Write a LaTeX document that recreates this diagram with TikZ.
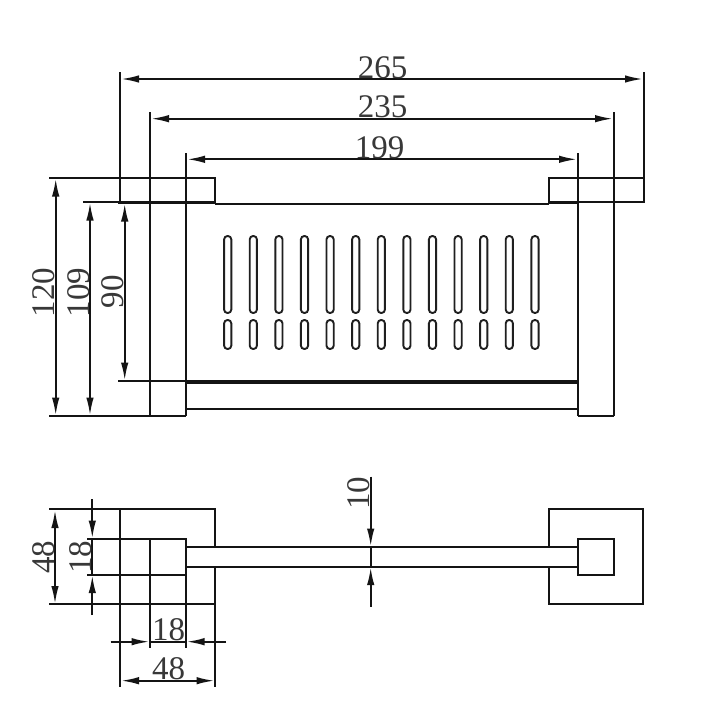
\documentclass[tikz,border=0pt]{standalone}
\usepackage{fontspec}
\setmainfont{Liberation Serif}
\usetikzlibrary{arrows.meta}
\tikzset{
  x=1pt,y=-1pt,
  part/.style={line width=2pt,black!92,line join=miter},
  heavy/.style={line width=3.4pt,black!92},
  dimline/.style={line width=2pt,black!92,{Latex[length=18pt,width=7.5pt]}-{Latex[length=18pt,width=7.5pt]}},
  headin/.style={line width=2pt,black!92,-{Latex[length=18pt,width=7.5pt]}},
  slot/.style={line width=1.9pt,black!88,rounded corners=3.4pt},
  dimtext/.style={font=\fontsize{33}{33}\selectfont,text=black!78,inner sep=0pt},
  vtext/.style={dimtext,rotate=90}
}
\begin{document}
\begin{tikzpicture}
\useasboundingbox (0,0) rectangle (720,720);
\fill[white] (0,0) rectangle (720,720);
% front view: extension lines and outline
\draw[part] (120.3,72) -- (120.3,202);
\draw[part] (150,112) -- (150,416);
\draw[part] (186,153) -- (186,416);
\draw[part] (578,153) -- (578,416);
\draw[part] (613.5,112) -- (613.5,416);
\draw[part] (643.5,72) -- (643.5,202) -- (548.7,202) -- (548.7,178) -- (643.5,178);
\draw[part] (49,178) -- (215,178) -- (215,203.5);
\draw[part] (83,202) -- (120.3,202);
\draw[part] (215,203.5) -- (548.7,203.5);
\draw[heavy] (118,202.3) -- (215,202.3);
\draw[heavy] (548.7,202.6) -- (578,202.6);
\draw[part] (118,381) -- (186,381);
\draw[heavy] (186,382) -- (578,382);
\draw[part] (186,408.5) -- (578,408.5);
\draw[part] (49,416) -- (186,416);
\draw[part] (578,416) -- (613.5,416);
% slots
\foreach \cx in {227.7,253.3,278.9,304.5,330.1,355.7,381.3,406.9,432.5,458.1,483.7,509.3,535} {
  \draw[slot] (\cx-3.6,236) rectangle (\cx+3.6,313);
  \draw[slot] (\cx-3.6,320) rectangle (\cx+3.6,349);
}
% front view dimensions
\draw[dimline] (121,79) -- (643,79);
\draw[dimline] (151,118.7) -- (613,118.7);
\draw[dimline] (187,159.3) -- (577,159.3);
\draw[dimline] (55.7,178.5) -- (55.7,415.5);
\draw[dimline] (90,202.5) -- (90,415.5);
\draw[dimline] (124.7,203.5) -- (124.7,380.5);
\node[dimtext] (t265) at (382.5,68) {265};
\node[dimtext] (t235) at (382.5,107) {235};
\node[dimtext] (t199) at (379.5,148) {199};
\node[vtext] (t120) at (43.7,292.7) {120};
\node[vtext] (t109) at (79,292.7) {109};
\node[vtext] (t90) at (113,291.7) {90};
% top view, left
\draw[part] (120.3,509.3) -- (120.3,687);
\draw[part] (49,509.3) -- (215,509.3) -- (215,547);
\draw[part] (215,566.7) -- (215,687);
\draw[part] (49,604.3) -- (215,604.3);
\draw[part] (87,539) -- (186,539) -- (186,648);
\draw[part] (87,574.7) -- (186,574.7);
\draw[part] (150,539) -- (150,648);
% bar
\draw[part] (186,547) -- (578,547);
\draw[part] (186,566.7) -- (578,566.7);
% top view, right
\draw[part] (548.5,547) -- (548.5,509.3) -- (643.3,509.3) -- (643.3,604.3) -- (548.5,604.3) -- (548.5,566.7);
\draw[part] (578,539) rectangle (613.7,574.7);
% top view dimensions
\draw[dimline] (55,510) -- (55,604);
\draw[headin] (92.3,499.3) -- (92.3,538.5);
\draw[headin] (92.3,615) -- (92.3,575.2);
\draw[part] (92.3,539) -- (92.3,574.7);
\draw[headin] (110.7,641.7) -- (149.5,641.7);
\draw[headin] (226,641.7) -- (186.5,641.7);
\draw[part] (150,641.7) -- (186,641.7);
\draw[dimline] (121,680.7) -- (214.5,680.7);
\draw[headin] (370.7,476.7) -- (370.7,546.5);
\draw[headin] (370.7,606.7) -- (370.7,567.2);
\draw[part] (370.7,547) -- (370.7,566.7);
\node[vtext] (t48a) at (43.5,557) {48};
\node[vtext] (t18a) at (81,557) {18};
\node[dimtext] (t18b) at (168.5,630) {18};
\node[dimtext] (t48b) at (168.5,669) {48};
\node[vtext] (t10) at (359,493) {10};
\end{tikzpicture}
\end{document}
